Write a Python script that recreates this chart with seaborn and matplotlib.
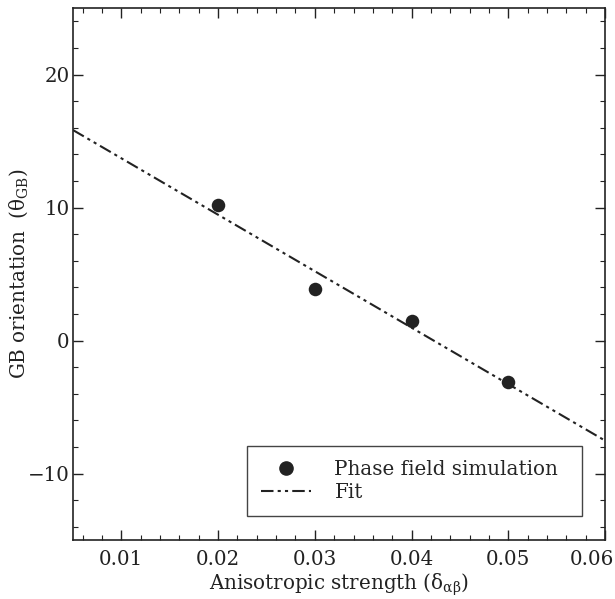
import numpy as np
import pandas as pd
import matplotlib
matplotlib.use("Agg")
import matplotlib.pyplot as plt
import matplotlib.transforms as mtransforms
import seaborn as sns
from matplotlib.ticker import MultipleLocator
from matplotlib.lines import Line2D

# Data
strength = [0.02, 0.03, 0.04, 0.05]
orientation = [10.2, 3.85, 1.45, -3.15]
x_ticks = [0.01, 0.02, 0.03, 0.04, 0.05, 0.06]
y_ticks = [-10, 0, 10, 20]

df = pd.DataFrame({"strength": strength, "orientation": orientation})

sns.set_theme(style="ticks")
plt.rcParams["font.family"] = ["DejaVu Serif"]
plt.rcParams["mathtext.fontset"] = "dejavuserif"

FS = 14.3
fig = plt.figure(figsize=(6.15, 5.99), dpi=100)
ax = fig.add_axes([73/615, 1-540/599, 532/615, 532/599])
ax.set_xlim(0.005, 0.06)
ax.set_ylim(-15, 25)

dark = "#222222"
dash = (0, (6, 2, 1.5, 2, 1.5, 2))
sns.regplot(data=df, x="strength", y="orientation", ax=ax, ci=None,
            truncate=False, scatter=False,
            line_kws=dict(color=dark, lw=1.5, linestyle=dash))
sns.scatterplot(data=df, x="strength", y="orientation", ax=ax, s=95,
                color=dark, edgecolor=dark, linewidth=0, zorder=3)
ax.set_xlim(0.005, 0.06)
ax.set_ylim(-15, 25)

ax.set_xticks(x_ticks)
ax.set_xticklabels([f"{t:.2f}" for t in x_ticks])
ax.set_yticks(y_ticks)
ax.set_yticklabels([("\u2212" + str(abs(t))) if t < 0 else str(t) for t in y_ticks])
ax.xaxis.set_minor_locator(MultipleLocator(0.002))
ax.yaxis.set_minor_locator(MultipleLocator(2))
ax.tick_params(which="both", direction="in", top=True, right=True,
               colors=dark, labelsize=FS, labelcolor=dark)
ax.tick_params(which="major", length=7, width=1.0)
ax.tick_params(axis="x", which="major", pad=7)
ax.tick_params(axis="y", which="major", pad=2.5)
ax.tick_params(which="minor", length=3.5, width=0.8)
for s in ax.spines.values():
    s.set_linewidth(1.2)
    s.set_color(dark)

# shift the last x tick label left so it stays inside the figure
last = ax.get_xticklabels()[-1]
last.set_transform(last.get_transform() +
                   mtransforms.ScaledTranslation(-13/100, 0, fig.dpi_scale_trans))

ax.set_xlabel(r"Anisotropic strength ($\mathrm{\delta_{\alpha\beta}}$)", fontsize=FS, color=dark, labelpad=2)
ax.set_ylabel(r"GB orientation  ($\mathrm{\theta_{GB}}$)", fontsize=FS, color=dark)
ax.yaxis.set_label_coords(-0.08, 0.5)

handles = [Line2D([], [], marker="o", ls="none", color=dark, markersize=9.5),
           Line2D([], [], color=dark, lw=1.5, linestyle=dash)]
leg = ax.legend(handles, ["Phase field simulation", "Fit"], loc="lower left",
                bbox_to_anchor=(0.3271, 0.045, 0.6297, 0.13), mode="expand",
                borderaxespad=0, fontsize=FS,
                frameon=True, fancybox=False, edgecolor="#444444", framealpha=1,
                handlelength=2.5, borderpad=0.7, labelspacing=0.2, handletextpad=1.2)
leg.get_frame().set_linewidth(1.0)

fig.savefig("out.png", dpi=100)
